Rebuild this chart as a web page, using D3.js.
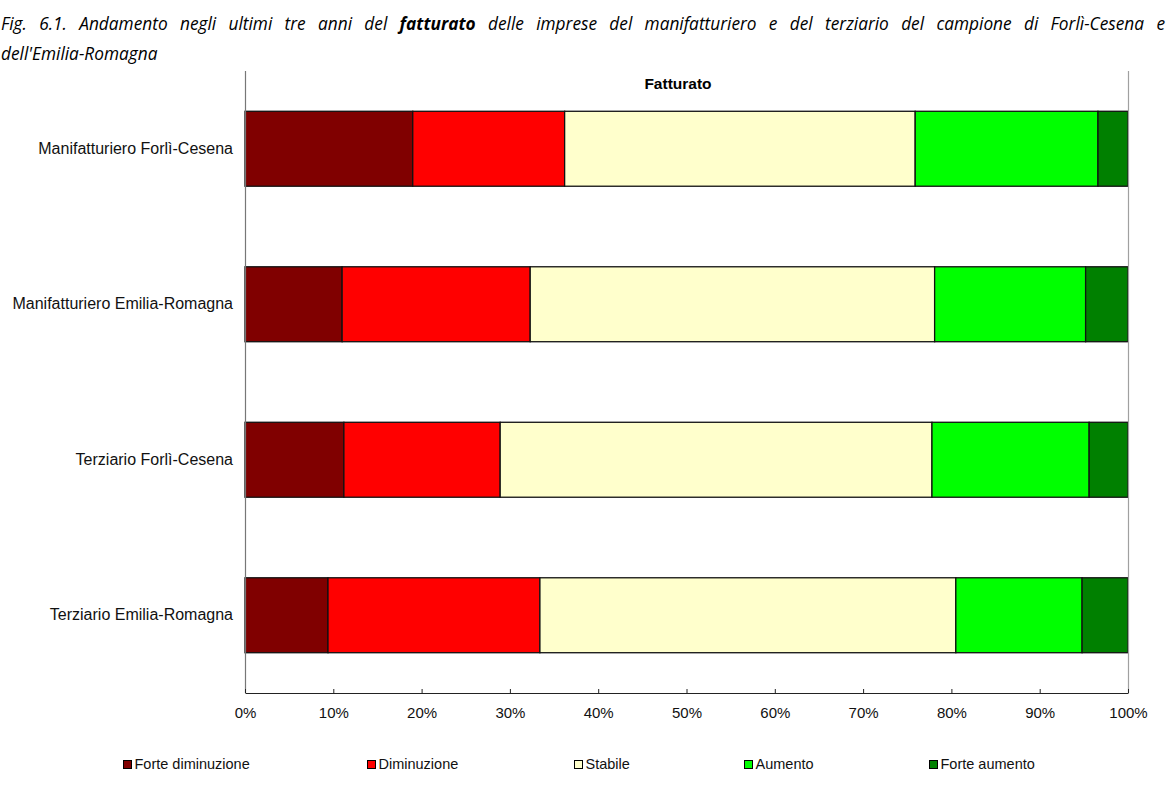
<!DOCTYPE html>
<html>
<head>
<meta charset="utf-8">
<script src="https://cdn.jsdelivr.net/npm/d3@7"></script>
<style>
  html, body { margin: 0; padding: 0; background: #fff; }
  svg { display: block; }
</style>
</head>
<body>
<svg id="chart" width="1171" height="795"></svg>
<script>
// Categories (top to bottom) and the share of firms per answer, in percent
const categories = [
  "Manifatturiero Forlì-Cesena",
  "Manifatturiero Emilia-Romagna",
  "Terziario Forlì-Cesena",
  "Terziario Emilia-Romagna"
];
const seriesNames = ["Forte diminuzione", "Diminuzione", "Stabile", "Aumento", "Forte aumento"];
const forteDiminuzione = [19.0, 11.0, 11.2, 9.4];
const diminuzione      = [17.2, 21.3, 17.7, 24.0];
const stabile          = [39.7, 45.8, 48.9, 47.1];
const aumento          = [20.7, 17.1, 17.8, 14.3];
const forteAumento     = [3.4, 4.8, 4.4, 5.2];
const tickValues = [0, 10, 20, 30, 40, 50, 60, 70, 80, 90, 100];
const colors = ["#800000", "#ff0000", "#ffffcc", "#00ff00", "#008000"];

const rows = categories.map((c, i) => ({
  category: c,
  "Forte diminuzione": forteDiminuzione[i],
  "Diminuzione": diminuzione[i],
  "Stabile": stabile[i],
  "Aumento": aumento[i],
  "Forte aumento": forteAumento[i]
}));

const svg = d3.select("#chart");
const font = "'Liberation Sans', Arial, sans-serif";

// Caption above the chart; the first line is justified by widening word gaps
const cap = svg.append("g")
  .attr("font-family", "'Open Sans', 'Noto Sans', sans-serif")
  .attr("font-style", "italic")
  .attr("font-size", 17.3)
  .attr("fill", "#000");
const captionParts = [
  { text: "Fig. 6.1. Andamento negli ultimi tre anni del ", bold: false },
  { text: "fatturato", bold: true },
  { text: " delle imprese del manifatturiero e del terziario del campione di Forlì-Cesena e", bold: false }
];
const line1 = cap.append("text").attr("x", 1).attr("y", 30);
line1.selectAll("tspan")
  .data(captionParts)
  .join("tspan")
  .attr("font-weight", d => d.bold ? "bold" : null)
  .text(d => d.text);
const lineWidth = 1164;
const natural = line1.node().getComputedTextLength();
const spaces = captionParts.map(d => d.text).join("").split(" ").length - 1;
if (natural < lineWidth && spaces > 0) {
  line1.attr("word-spacing", (lineWidth - natural) / spaces);
} else if (natural > lineWidth) {
  line1.attr("textLength", lineWidth).attr("lengthAdjust", "spacingAndGlyphs");
}
cap.append("text").attr("x", 1).attr("y", 60).text("dell'Emilia-Romagna");

// Plot area
const plotLeft = 245, plotRight = 1128, plotTop = 71, plotBottom = 693;
const x = d3.scaleLinear().domain([0, 100]).range([plotLeft, plotRight]);
const y = d3.scaleBand().domain(categories).range([plotTop, plotBottom]).paddingInner(0.518).paddingOuter(0.259);

const stacked = d3.stack().keys(seriesNames)(rows);

const layers = svg.append("g").selectAll("g")
  .data(stacked)
  .join("g")
  .attr("fill", (d, i) => colors[i]);

layers.selectAll("rect")
  .data(d => d)
  .join("rect")
  .attr("x", d => x(d[0]))
  .attr("y", d => y(d.data.category))
  .attr("width", d => x(d[1]) - x(d[0]))
  .attr("height", y.bandwidth())
  .attr("stroke", "#111")
  .attr("stroke-width", 1.3);

// Right border of the plot
svg.append("line")
  .attr("x1", plotRight + 0.5).attr("x2", plotRight + 0.5)
  .attr("y1", plotTop).attr("y2", plotBottom)
  .attr("stroke", "#a0a0a0").attr("stroke-width", 1.2);

// Category axis
const yAxis = svg.append("g")
  .attr("transform", `translate(${plotLeft},0)`)
  .call(d3.axisLeft(y).tickSize(0).tickPadding(12));
yAxis.select(".domain").attr("stroke", "#777").attr("stroke-width", 1.2).attr("d", `M0.5,${plotTop}V${plotBottom}`);
yAxis.selectAll("text").attr("font-family", font).attr("font-size", 16).attr("fill", "#111");

// Percentage axis with inward ticks
const xAxis = svg.append("g")
  .attr("transform", `translate(0,${plotBottom})`)
  .call(d3.axisBottom(x).tickValues(tickValues).tickFormat(d => d + "%").tickSize(-4).tickSizeOuter(0).tickPadding(14));
xAxis.select(".domain").attr("stroke", "#222").attr("stroke-width", 1.2);
xAxis.selectAll(".tick line").attr("stroke", "#222");
xAxis.selectAll("text").attr("font-family", font).attr("font-size", 15).attr("fill", "#111");

// Chart title
svg.append("text")
  .attr("x", 678).attr("y", 89)
  .attr("text-anchor", "middle")
  .attr("font-family", font).attr("font-size", 15.5).attr("font-weight", "bold")
  .text("Fatturato");

// Legend
const legendX = [123, 367, 574, 744, 929];
const legend = svg.append("g").selectAll("g")
  .data(seriesNames)
  .join("g")
  .attr("transform", (d, i) => `translate(${legendX[i]},760)`);
legend.append("rect")
  .attr("x", 0.5).attr("y", 0.5).attr("width", 8).attr("height", 8)
  .attr("fill", (d, i) => colors[i]).attr("stroke", "#000").attr("stroke-width", 1);
legend.append("text")
  .attr("x", 11.5).attr("y", 9)
  .attr("font-family", font).attr("font-size", 14.5).attr("fill", "#111")
  .text(d => d);
</script>
</body>
</html>
